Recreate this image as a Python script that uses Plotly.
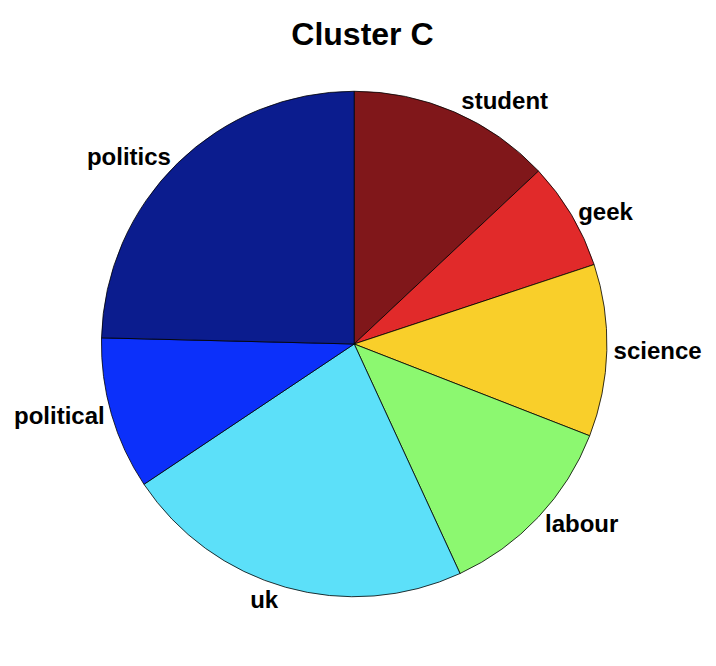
import plotly.graph_objects as go

labels = ["student", "geek", "science", "labour", "uk", "political", "politics"]
values = [13.0, 6.9, 11.0, 12.2, 22.5, 9.75, 24.6]
colors = ["#80171A", "#E12A2A", "#F9CF2A", "#8CF870", "#5CE0F9", "#0C30FA", "#0B1C8E"]

fig = go.Figure(
    go.Pie(
        labels=labels,
        values=values,
        sort=False,
        direction="clockwise",
        rotation=0,
        marker=dict(colors=colors, line=dict(color="black", width=0.8)),
        texttemplate="<b>%{label}</b>",
        textposition="outside",
        textfont=dict(family="Liberation Sans", size=24, color="black"),
        showlegend=False,
        hoverinfo="label+percent",
        domain=dict(x=[0.130, 0.837], y=[0.116, 0.875]),
    )
)

fig.update_layout(
    width=716,
    height=666,
    margin=dict(l=0, r=0, t=0, b=0),
    paper_bgcolor="white",
    title=dict(
        text="<b>Cluster C</b>",
        x=0.495,
        y=0.962,
        xanchor="center",
        yanchor="middle",
        font=dict(family="Liberation Sans", size=32, color="black"),
    ),
)

fig.write_html("out.html")
